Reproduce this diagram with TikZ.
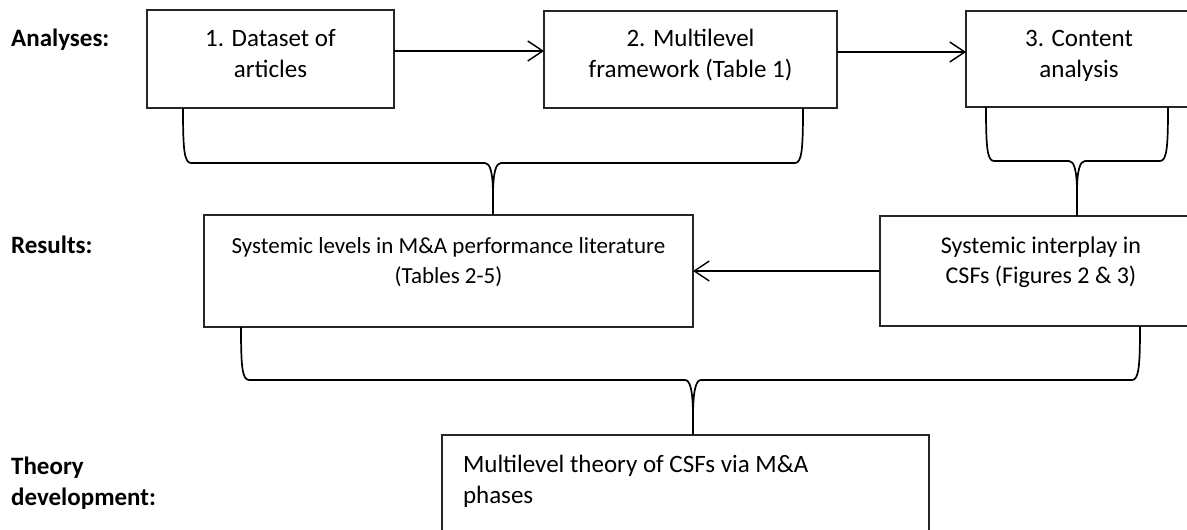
\documentclass[tikz,border=0pt]{standalone}
\usepackage{fontspec}
\setmainfont{Carlito}
\usetikzlibrary{arrows.meta}

\tikzset{
  stagebox/.style={draw=black!85, line width=1.3pt, inner sep=0pt, outer sep=0pt,
    align=flush center, anchor=base},
  rowlabel/.style={font=\bfseries, anchor=base west, inner sep=0pt, align=flush left,
    text width=200pt},
  flow/.style={line width=1.4pt, -{Straight Barb[length=15pt, width=20pt, line width=1.4pt]}},
  bracket/.style={line width=1.7pt, line join=round},
}

\begin{document}
\begin{tikzpicture}[x=1pt, y=-1pt]
\fontsize{25}{31}\selectfont
\useasboundingbox (0,0) rectangle (1187,530);
\clip (0,0) rectangle (1187,530);

% row labels
\node[rowlabel] (lanal) at (11,46.7) {Analyses:};
\node[rowlabel] (lres)  at (11,253)  {Results:};
\node[rowlabel] (ltheo) at (11,474)  {Theory\\development:};

% analysis steps
\node[stagebox, text width=247pt, text height=36.7pt, text depth=61.3pt]
  (b1) at (270.5,46.7) {1. Dataset of\\articles};
\node[stagebox, text width=293pt, text height=35.7pt, text depth=61.3pt]
  (b2) at (690.5,46.7) {2. Multilevel\\framework (Table 1)};
\node[stagebox, text width=226pt, text height=35.7pt, text depth=60.3pt]
  (b3) at (1079,46.7) {3. Content\\analysis};

% results
\node[stagebox, text width=489pt, text height=38pt, text depth=74pt,
      font=\fontsize{23}{30}\selectfont]
  (r1) at (448.5,253) {Systemic levels in M\&A performance literature\\(Tables 2-5)};
\node[stagebox, text width=322pt, text height=37pt, text depth=73pt,
      font=\fontsize{24}{30}\selectfont]
  (r2) at (1041,253) {Systemic interplay in\\CSFs (Figures 2 \& 3)};

% theory development
\node[stagebox, align=flush left, inner xsep=21pt, text width=445pt, text height=37pt, text depth=70pt]
  (t1) at (685.5,472) {Multilevel theory of CSFs via M\&A\\phases};

% arrows between steps
\draw[flow] ([yshift=8pt]b1.east) -- ([yshift=8pt]b1.east -| b2.west);
\draw[flow] ([yshift=7.5pt]b2.east) -- ([yshift=7.5pt]b2.east -| b3.west);
\draw[flow] (r2.west) -- (r2.west -| r1.east);

% bracket anchors
\coordinate (k1l) at (183,108);
\coordinate (k1r) at (803,108);
\coordinate (c1)  at (493,196);
\coordinate (k2l) at (986,107);
\coordinate (k2r) at (1168,107);
\coordinate (c2)  at (1077,193);
\coordinate (k3l) at (241,327);
\coordinate (k3r) at (1140,326);
\coordinate (c3)  at (693,417);

% bracket: steps 1-2 into the levels result
\draw[bracket] (k1l) .. controls (183,148) and (184,163) .. (191,163) -- (485,163)
  .. controls (490,163) and (493,172) .. (c1) -- (c1 |- r1.north);
\draw[bracket] (k1r) .. controls (803,148) and (802,163) .. (795,163) -- (501,163)
  .. controls (496,163) and (493,172) .. (c1);

% bracket: step 3 into the interplay result
\draw[bracket] (k2l) .. controls (986,146) and (987,161) .. (994,161) -- (1069,161)
  .. controls (1074,161) and (1077,170) .. (c2) -- (c2 |- r2.north);
\draw[bracket] (k2r) .. controls (1168,146) and (1167,161) .. (1160,161) -- (1085,161)
  .. controls (1080,161) and (1077,170) .. (c2);

% bracket: both results into the theory
\draw[bracket] (k3l) .. controls (241,365) and (242,380) .. (249,380) -- (685,380)
  .. controls (690,380) and (693,390) .. (c3) -- (c3 |- t1.north);
\draw[bracket] (k3r) .. controls (1140,365) and (1139,380) .. (1132,380) -- (701,380)
  .. controls (696,380) and (693,390) .. (c3);
\end{tikzpicture}
\end{document}
